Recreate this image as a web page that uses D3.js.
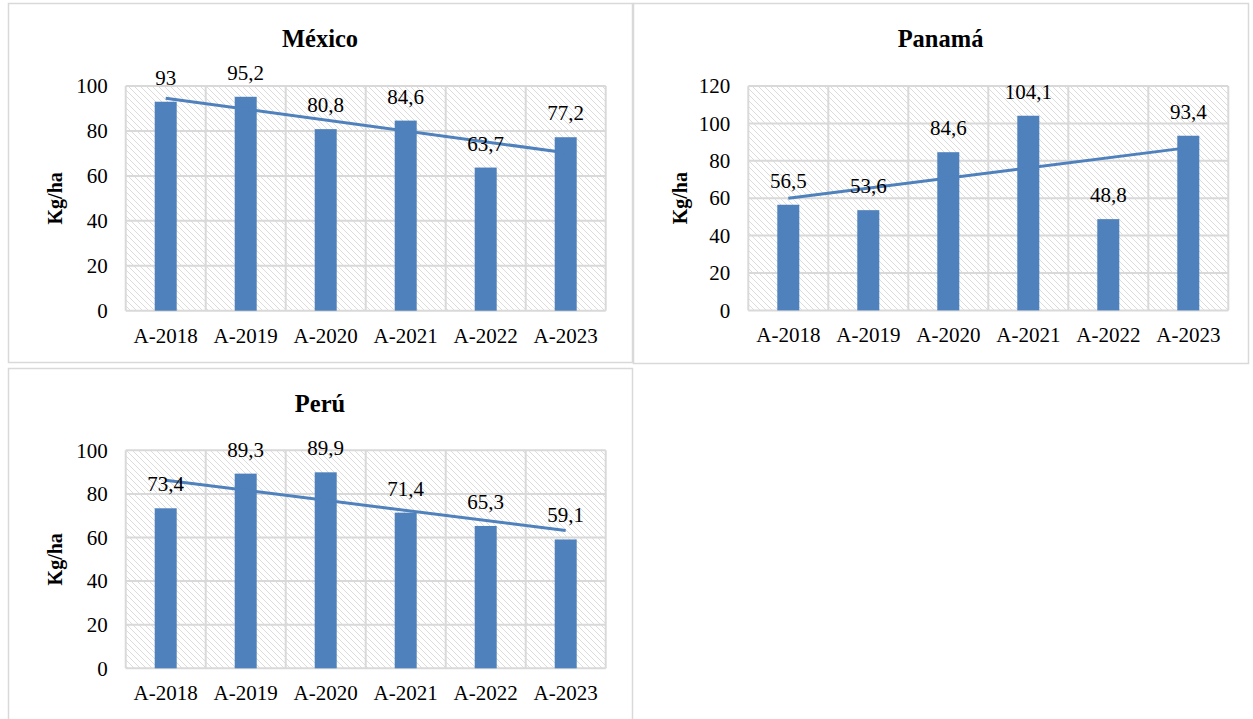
<!DOCTYPE html>
<html>
<head>
<meta charset="utf-8">
<script src="https://cdn.jsdelivr.net/npm/d3@7/dist/d3.min.js"></script>
<style>
  html, body { margin: 0; padding: 0; background: #fff; }
  svg { display: block; }
</style>
</head>
<body>
<svg id="chart" width="1253" height="719" font-family="Liberation Serif"></svg>
<script>
// ---- data ----
const categories = ["A-2018", "A-2019", "A-2020", "A-2021", "A-2022", "A-2023"];
const mexicoValues = [93, 95.2, 80.8, 84.6, 63.7, 77.2];
const panamaValues = [56.5, 53.6, 84.6, 104.1, 48.8, 93.4];
const peruValues = [73.4, 89.3, 89.9, 71.4, 65.3, 59.1];
const mexicoTicks = [0, 20, 40, 60, 80, 100];
const panamaTicks = [0, 20, 40, 60, 80, 100, 120];
const peruTicks = [0, 20, 40, 60, 80, 100];
const yAxisTitle = "Kg/ha";

const BAR = "#4F81BD";
const GRID = "#d9d9d9";
const FONT = "Liberation Serif";
const FS = 21;

const svg = d3.select("#chart");

// hatch pattern (light downward diagonal)
const defs = svg.append("defs");
const pat = defs.append("pattern")
  .attr("id", "hatch").attr("patternUnits", "userSpaceOnUse")
  .attr("width", 6).attr("height", 6);
pat.append("rect").attr("width", 6).attr("height", 6).attr("fill", "#fff");
pat.append("path").attr("d", "M-1,-1 L7,7 M-1,5 L1,7 M5,-1 L7,1")
  .attr("stroke", "#dcdcdc").attr("stroke-width", 1);

const panels = [
  { title: "México", values: mexicoValues, ticks: mexicoTicks,
    box: [8, 3, 632, 362], plot: [125.7, 86, 605.7, 310.7] },
  { title: "Panamá", values: panamaValues, ticks: panamaTicks,
    box: [633, 3, 1248, 363], plot: [748.3, 86, 1228.3, 310.4] },
  { title: "Perú", values: peruValues, ticks: peruTicks,
    box: [8, 368, 632, 730], plot: [125.7, 450.3, 605.7, 668.3] }
];

function fmt(v) { return String(v).replace(".", ","); }

panels.forEach(p => {
  const [bx0, by0, bx1, by1] = p.box;
  const [px0, py0, px1, py1] = p.plot;
  const g = svg.append("g");

  g.append("rect")
    .attr("x", bx0 + 0.5).attr("y", by0 + 0.5)
    .attr("width", bx1 - bx0).attr("height", by1 - by0)
    .attr("fill", "none").attr("stroke", GRID).attr("stroke-width", 1.5);

  const x = d3.scaleBand().domain(categories).range([px0, px1]).paddingInner(0).paddingOuter(0);
  const y = d3.scaleLinear().domain([0, d3.max(p.ticks)]).range([py1, py0]);

  g.append("rect").attr("x", px0).attr("y", py0)
    .attr("width", px1 - px0).attr("height", py1 - py0)
    .attr("fill", "url(#hatch)");

  g.selectAll(".hg").data(p.ticks).join("line")
    .attr("x1", px0).attr("x2", px1)
    .attr("y1", d => y(d)).attr("y2", d => y(d))
    .attr("stroke", GRID).attr("stroke-width", 2);

  const bounds = categories.map(c => x(c)).concat([px1]);
  g.selectAll(".vg").data(bounds).join("line")
    .attr("x1", d => d).attr("x2", d => d)
    .attr("y1", py0).attr("y2", py1)
    .attr("stroke", GRID).attr("stroke-width", 2);

  const yAxis = d3.axisLeft(y).tickValues(p.ticks).tickSize(0).tickPadding(18).tickFormat(d => d);
  const ya = g.append("g").attr("transform", `translate(${px0},0)`).call(yAxis)
    .attr("font-family", FONT).attr("font-size", FS);
  ya.select(".domain").remove();
  ya.selectAll("text").attr("fill", "#000").attr("font-family", FONT);

  const xAxis = d3.axisBottom(x).tickSize(0).tickPadding(17);
  const xa = g.append("g").attr("transform", `translate(0,${py1})`).call(xAxis)
    .attr("font-family", FONT).attr("font-size", FS);
  xa.select(".domain").remove();
  xa.selectAll("text").attr("fill", "#000").attr("font-family", FONT);

  const bw = 22;
  const data = categories.map((c, i) => ({ c, v: p.values[i], i }));
  g.selectAll(".bar").data(data).join("rect")
    .attr("x", d => x(d.c) + x.bandwidth() / 2 - bw / 2)
    .attr("y", d => y(d.v))
    .attr("width", bw)
    .attr("height", d => y(0) - y(d.v))
    .attr("fill", BAR);

  // linear trendline (least squares over category index)
  const n = p.values.length;
  const xs = d3.range(1, n + 1);
  const mx = d3.mean(xs), my = d3.mean(p.values);
  const slope = d3.sum(xs, (xi, i) => (xi - mx) * (p.values[i] - my)) / d3.sum(xs, xi => (xi - mx) ** 2);
  const icpt = my - slope * mx;
  const cx = i => x(categories[i]) + x.bandwidth() / 2;
  g.append("line")
    .attr("x1", cx(0)).attr("y1", y(icpt + slope * 1))
    .attr("x2", cx(n - 1)).attr("y2", y(icpt + slope * n))
    .attr("stroke", BAR).attr("stroke-width", 3);

  g.selectAll(".lbl").data(data).join("text")
    .attr("x", d => x(d.c) + x.bandwidth() / 2)
    .attr("y", d => y(d.v) - 17)
    .attr("text-anchor", "middle")
    .attr("font-family", FONT)
    .attr("font-size", FS)
    .attr("fill", "#000")
    .text(d => fmt(d.v));

  g.append("text")
    .attr("x", (bx0 + bx1) / 2).attr("y", by0 + 44)
    .attr("text-anchor", "middle")
    .attr("font-family", FONT)
    .attr("font-size", 24.5).attr("font-weight", "bold")
    .attr("fill", "#000")
    .text(p.title);

  g.append("text")
    .attr("transform", `translate(${bx0 + 54},${(py0 + py1) / 2}) rotate(-90)`)
    .attr("text-anchor", "middle")
    .attr("font-family", FONT)
    .attr("font-size", 20).attr("font-weight", "bold")
    .attr("fill", "#000")
    .text(yAxisTitle);
});
</script>
</body>
</html>
